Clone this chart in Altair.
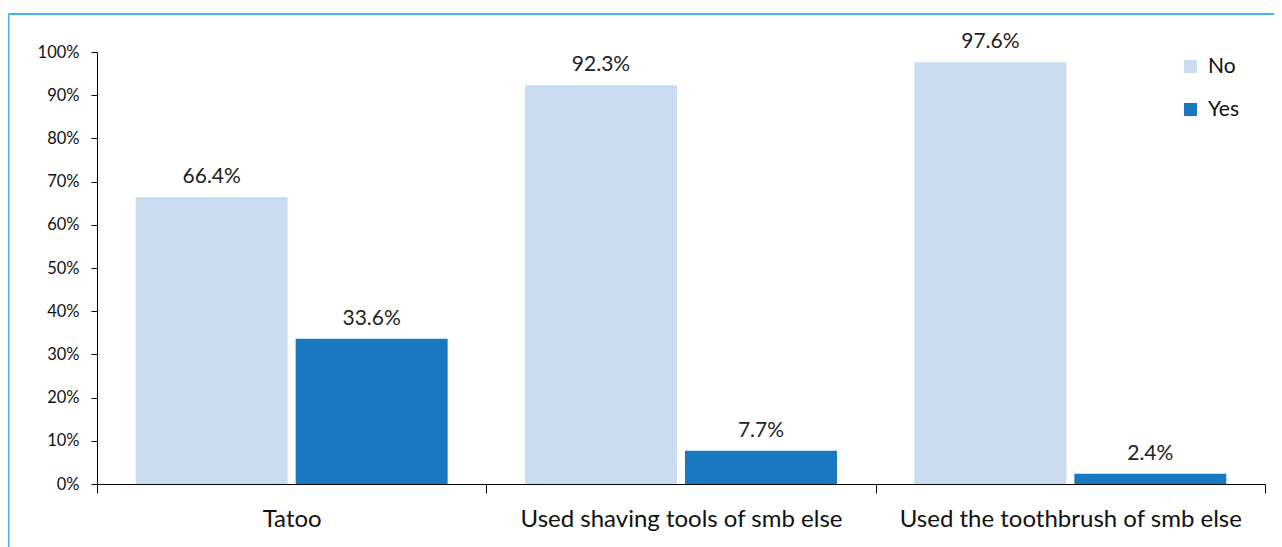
import altair as alt
import pandas as pd

categories = ["Tatoo", "Used shaving tools of smb else", "Used the toothbrush of smb else"]
answers = ["No", "Yes"]
no_values = [66.4, 92.3, 97.6]
yes_values = [33.6, 7.7, 2.4]
colors = ["#C9DCF0", "#1878C0"]

rows = []
for c, n, y in zip(categories, no_values, yes_values):
    rows.append({"cat": c, "ans": "No", "val": n, "label": f"{n:.1f}%"})
    rows.append({"cat": c, "ans": "Yes", "val": y, "label": f"{y:.1f}%"})
df = pd.DataFrame(rows)

FONT = "Lato"
W, H = 1168, 432

x = alt.X("cat:N", sort=categories, title=None,
          scale=alt.Scale(paddingInner=0, paddingOuter=0),
          axis=alt.Axis(labelAngle=0, labelFontSize=24, labelColor="#111", labelPadding=14,
                        labelLimit=0, tickBand="extent", tickSize=9, tickColor="#000",
                        domainColor="#000", labelFont=FONT))
xo = alt.XOffset("ans:N", sort=answers,
                 scale=alt.Scale(paddingInner=0.05, paddingOuter=0.242))
y = alt.Y("val:Q", title=None,
          scale=alt.Scale(domain=[0, 100], nice=False),
          axis=alt.Axis(values=list(range(0, 101, 10)), labelExpr="datum.value + '%'",
                        grid=False, tickSize=6, tickColor="#000", domainColor="#000",
                        labelFontSize=16.5, labelColor="#111", labelPadding=12, labelFont=FONT))

bars = alt.Chart(df).mark_bar().encode(
    x=x, xOffset=xo, y=y,
    color=alt.Color("ans:N", sort=answers,
                    scale=alt.Scale(domain=answers, range=colors),
                    legend=alt.Legend(title=None, orient="none", legendX=1083, legendY=4,
                                      symbolType="square", symbolSize=169, symbolStrokeWidth=0,
                                      labelFontSize=21, labelFont=FONT, labelColor="#111",
                                      rowPadding=21, labelOffset=7)),
)

text = alt.Chart(df).mark_text(dy=-14, baseline="alphabetic", fontSize=21, font=FONT, color="#222").encode(
    x=x, xOffset=xo, y=y, text="label:N"
)

frame_left = alt.Chart(pd.DataFrame({"a": [0]})).mark_rule(color="#4BB4E6", strokeWidth=2).encode(
    x=alt.value(-88.5), y=alt.value(-38), y2=alt.value(H + 90)
)
frame_top = alt.Chart(pd.DataFrame({"a": [0]})).mark_rule(color="#4BB4E6", strokeWidth=2).encode(
    x=alt.value(-88.5), x2=alt.value(W + 30), y=alt.value(-38)
)

chart = alt.layer(bars, text, frame_left, frame_top).properties(
    width=W, height=H, autosize=alt.AutoSizeParams(type="none"),
    padding={"left": 89, "top": 44, "right": 9, "bottom": 63},
    background="white"
).configure_view(stroke=None)

chart.save("out.html", embed_options={"renderer": "svg", "actions": False})
